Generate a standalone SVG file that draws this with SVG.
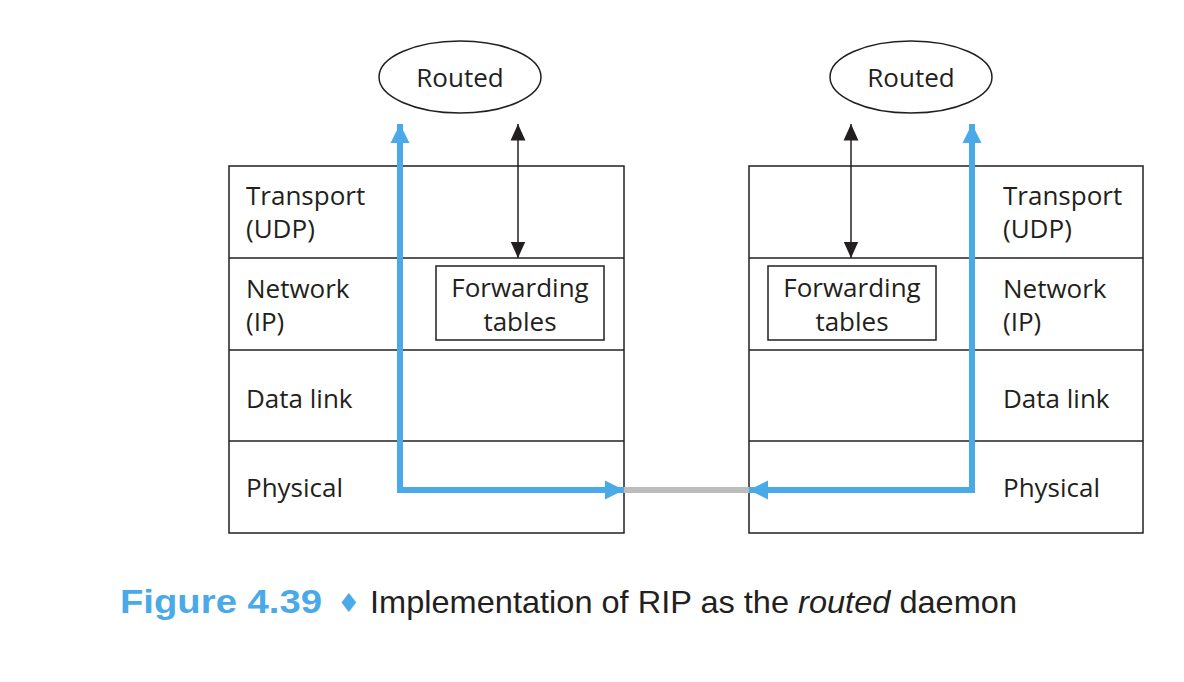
<svg xmlns="http://www.w3.org/2000/svg" width="1184" height="682" viewBox="0 0 1184 682">
<defs>
<style>
.box{fill:#fff;stroke:#231f20;stroke-width:1.5}
.lbl{font-family:"Open Sans","Noto Sans",sans-serif;font-size:26px;fill:#231f20}
.blue{fill:none;stroke:#4aaae8;stroke-width:6}
.blk{fill:none;stroke:#231f20;stroke-width:1.5}
</style>
<marker id="ab" viewBox="0 0 10 10" refX="10" refY="5" markerWidth="3.2" markerHeight="3.2" markerUnits="strokeWidth" orient="auto"><path d="M0,0L10,5L0,10z" fill="#4aaae8"/></marker>
<marker id="ak" viewBox="0 0 10 10" refX="10" refY="5" markerWidth="11" markerHeight="11" markerUnits="strokeWidth" orient="auto-start-reverse"><path d="M0,0.5L10,5L0,9.5z" fill="#231f20"/></marker>
</defs>
<rect width="1184" height="682" fill="#fff"/>

<g id="left-routed">
<ellipse cx="460" cy="77" rx="81" ry="36" class="box"/>
<text x="460" y="87" text-anchor="middle" class="lbl">Routed</text>
</g>
<g id="right-routed">
<ellipse cx="911" cy="77" rx="81" ry="36" class="box"/>
<text x="911" y="87" text-anchor="middle" class="lbl">Routed</text>
</g>

<g id="left-stack">
<rect x="229" y="166" width="395" height="367" class="box"/>
<line x1="229" y1="258" x2="624" y2="258" class="blk"/>
<line x1="229" y1="350" x2="624" y2="350" class="blk"/>
<line x1="229" y1="441" x2="624" y2="441" class="blk"/>
<text x="246" y="205" class="lbl">Transport</text>
<text x="246" y="238" class="lbl">(UDP)</text>
<text x="246" y="298" class="lbl">Network</text>
<text x="246" y="331" class="lbl">(IP)</text>
<text x="246" y="408" class="lbl">Data link</text>
<text x="246" y="497" class="lbl">Physical</text>
</g>
<g id="left-forwarding">
<rect x="436" y="266" width="168" height="74" class="box"/>
<text x="520" y="297" text-anchor="middle" class="lbl">Forwarding</text>
<text x="520" y="331" text-anchor="middle" class="lbl">tables</text>
</g>

<g id="right-stack">
<rect x="749" y="166" width="394" height="367" class="box"/>
<line x1="749" y1="258" x2="1143" y2="258" class="blk"/>
<line x1="749" y1="350" x2="1143" y2="350" class="blk"/>
<line x1="749" y1="441" x2="1143" y2="441" class="blk"/>
<text x="1003" y="205" class="lbl">Transport</text>
<text x="1003" y="238" class="lbl">(UDP)</text>
<text x="1003" y="298" class="lbl">Network</text>
<text x="1003" y="331" class="lbl">(IP)</text>
<text x="1003" y="408" class="lbl">Data link</text>
<text x="1003" y="497" class="lbl">Physical</text>
</g>
<g id="right-forwarding">
<rect x="768" y="266" width="168" height="74" class="box"/>
<text x="852" y="297" text-anchor="middle" class="lbl">Forwarding</text>
<text x="852" y="331" text-anchor="middle" class="lbl">tables</text>
</g>

<g id="connectors">
<line x1="624" y1="490" x2="749" y2="490" stroke="#bcbcbc" stroke-width="6"/>
<polyline points="624,490 400,490 400,124" class="blue" marker-end="url(#ab)"/>
<line x1="400" y1="490" x2="624" y2="490" class="blue" marker-end="url(#ab)"/>
<polyline points="749,490 972,490 972,124" class="blue" marker-end="url(#ab)"/>
<line x1="972" y1="490" x2="749" y2="490" class="blue" marker-end="url(#ab)"/>
<line x1="518" y1="124" x2="518" y2="258" class="blk" marker-start="url(#ak)" marker-end="url(#ak)"/>
<line x1="851" y1="124" x2="851" y2="258" class="blk" marker-start="url(#ak)" marker-end="url(#ak)"/>
</g>

<g id="caption">
<text x="120" y="613" font-family="Liberation Sans, sans-serif" font-weight="bold" font-size="34" fill="#4aaae8" textLength="202" lengthAdjust="spacingAndGlyphs">Figure 4.39</text>
<text x="337" y="612" font-family="DejaVu Sans, sans-serif" font-size="26" fill="#4aaae8">♦</text>
<text x="370" y="613" font-family="Liberation Sans, sans-serif" font-size="32" fill="#231f20" textLength="647" lengthAdjust="spacingAndGlyphs">Implementation of RIP as the <tspan font-style="italic">routed</tspan> daemon</text>
</g>
</svg>
